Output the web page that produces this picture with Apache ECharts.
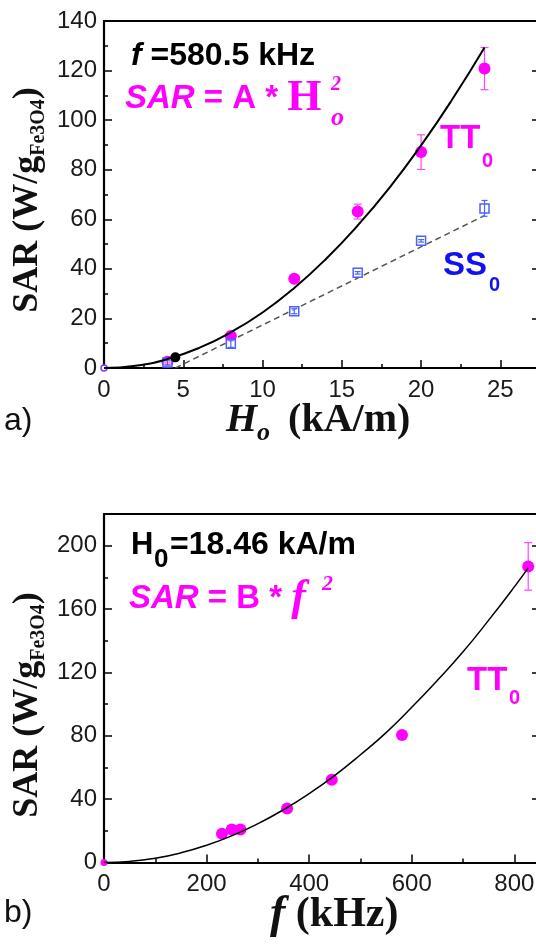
<!DOCTYPE html>
<html><head><meta charset="utf-8">
<script src="https://cdn.jsdelivr.net/npm/echarts@6/dist/echarts.min.js"></script>
<style>html,body{margin:0;padding:0;background:#fff}#c{width:536px;height:945px}</style>
</head><body><div id="c"></div><script>
// ---------- Panel a: SAR vs H0 (f = 580.5 kHz) ----------
const aXRange = [0, 27.5, 5];      // min, max, tick interval (kA/m)
const aYRange = [0, 140, 20];
const ttH = [4, 8, 12, 16, 20, 24];
const ttSAR = [2.5, 12.9, 36.0, 63.1, 87.1, 120.8];
const ttErr = [0, 0, 0, 3, 7, 8.5];
const blackH = [4.5];
const blackSAR = [4.3];
const ssH = [4, 8, 12, 16, 20, 24];
const ssSAR = [2.2, 9.8, 22.9, 38.4, 51.3, 64.4];
const ssErr = [1, 1.5, 1, 0.5, 0.5, 3.2];
const aOriginH = [0];
const aOriginSAR = [0];
const fitH = [0, 2, 4, 6, 8, 10, 12, 14, 16, 18, 20, 22, 24];
const fitSAR = [0, 0.9, 3.6, 8.1, 14.4, 22.4, 32.3, 44, 57.5, 72.7, 89.8, 108.7, 129.3];
const ssFitH = [4.5, 24];
const ssFitSAR = [0, 61.5];

// ---------- Panel b: SAR vs f (H0 = 18.46 kA/m) ----------
const bXRange = [0, 850, 200];
const bYRange = [0, 220, 40];
const fKHz = [230, 249, 266, 357, 444, 581, 827];
const fSAR = [18.1, 20.8, 20.8, 34.1, 52.2, 80.5, 186.9];
const fErr = [0, 0, 0, 0, 0, 0, 15];
const bOriginF = [0];
const bOriginSAR = [0];
const fitF = [0, 50, 100, 150, 200, 250, 300, 350, 400, 450, 500, 550, 600, 650, 700, 750, 800, 827];
const fitFSAR = [0, 0.7, 2.7, 6.1, 10.9, 17, 24.5, 33.3, 43.5, 55, 68, 82, 98, 115, 133, 153, 174, 186];

const SANS = 'Liberation Sans', SERIF = 'Liberation Serif';
const MAG = '#ff00ff', BLUE = '#1010f0', SQ = '#4a62ff';

const zip = (a, b) => a.map((v, i) => [v, b[i]]);
const zip3 = (a, b, c) => a.map((v, i) => [v, b[i], c[i]]);

function errBar(color, cap) {
  return function (params, api) {
    const x = api.value(0), y = api.value(1), e = api.value(2);
    if (!e) return null;
    const p1 = api.coord([x, y + e]), p2 = api.coord([x, y - e]);
    const s = { stroke: color, lineWidth: 1.2 };
    return { type: 'group', children: [
      { type: 'line', shape: { x1: p1[0], y1: p1[1], x2: p2[0], y2: p2[1] }, style: s },
      { type: 'line', shape: { x1: p1[0] - cap, y1: p1[1], x2: p1[0] + cap, y2: p1[1] }, style: s },
      { type: 'line', shape: { x1: p2[0] - cap, y1: p2[1], x2: p2[0] + cap, y2: p2[1] }, style: s }
    ]};
  };
}

const axLine = { show: true, onZero: false, lineStyle: { color: '#000', width: 2.2 } };
const tickStyle = { show: true, inside: true, length: 8, lineStyle: { color: '#000', width: 1.5 } };
const minorStyle = { show: true, splitNumber: 2, length: 4, lineStyle: { color: '#000', width: 1.5 } };
function xBottom(gi, r) {
  return { type: 'value', gridIndex: gi, position: 'bottom', min: r[0], max: r[1], interval: r[2],
    axisLine: axLine, splitLine: { show: false }, axisTick: tickStyle, minorTick: minorStyle,
    axisLabel: { margin: 10, fontFamily: SANS, fontSize: 24, color: '#1a1a1a', showMaxLabel: false } };
}
function xTop(gi, r) {
  return { type: 'value', gridIndex: gi, position: 'top', min: r[0], max: r[1], interval: r[2],
    axisLine: axLine, splitLine: { show: false }, axisTick: { show: false },
    axisLabel: { show: false } };
}
function yLeft(gi, r, showMax) {
  return { type: 'value', gridIndex: gi, position: 'left', min: r[0], max: r[1], interval: r[2],
    axisLine: axLine, splitLine: { show: false }, axisTick: tickStyle, minorTick: minorStyle,
    axisLabel: { margin: 7, fontFamily: SANS, fontSize: 24, color: '#1a1a1a', showMaxLabel: showMax } };
}
function yRight(gi, r) {
  const o = yLeft(gi, r, false);
  o.position = 'right';
  o.axisLabel = { show: false };
  return o;
}

function txt(x, y, text, rich) {
  return { type: 'text', x: x, y: y, z: 100,
    style: { text: text, rich: rich, verticalAlign: 'middle', align: 'left' } };
}
function tok(family, size, color, weight, style, extra) {
  return Object.assign({ fontFamily: family, fontSize: size, fill: color, color: color,
    fontWeight: weight || 'bold', fontStyle: style || 'normal' }, extra || {});
}
function rotName(x, y) {
  return { type: 'text', x: x, y: y, rotation: Math.PI / 2, z: 100,
    style: { text: '{b|SAR (W/g}{s|Fe3O4}{b|)}', align: 'center', verticalAlign: 'middle',
      rich: { b: tok(SERIF, 36, '#111', 'bold', 'normal', { lineHeight: 42 }),
              s: tok(SERIF, 20, '#111', 'bold', 'normal', { lineHeight: 20, verticalAlign: 'bottom' }) } } };
}

const graphic = [
  // panel a annotations
  txt(131, 56, '{i|f}{b| =580.5 kHz}', { i: tok(SANS, 32, '#000', 'bold', 'italic'), b: tok(SANS, 32, '#000') }),
  txt(125, 99, '{i|SAR}{b| = A * }{h|H}', { i: tok(SANS, 33, MAG, 'bold', 'italic'), b: tok(SANS, 33, MAG), h: tok(SERIF, 44, MAG) }),
  txt(331, 85, '{s|2}', { s: tok(SERIF, 20, MAG, 'bold', 'italic') }),
  txt(331, 118, '{s|o}', { s: tok(SERIF, 26, MAG, 'bold', 'italic') }),
  txt(440, 139, '{b|TT}', { b: tok(SANS, 33, MAG) }),
  txt(482, 161, '{b|0}', { b: tok(SANS, 20, MAG) }),
  txt(443, 266, '{b|SS}', { b: tok(SANS, 33, BLUE) }),
  txt(489, 285, '{b|0}', { b: tok(SANS, 20, BLUE) }),
  // panel a axis names
  rotName(28, 200),
  txt(226, 421, '{h|H}{s|o}{b| (kA/m)}', {
      h: tok(SERIF, 40, '#111', 'bold', 'italic', { lineHeight: 50 }),
      s: tok(SERIF, 26, '#111', 'bold', 'italic', { lineHeight: 26, verticalAlign: 'bottom', padding: [0, 8, 0, 0] }),
      b: tok(SERIF, 40, '#111', 'bold', 'normal', { lineHeight: 50 }) }),
  txt(4, 421, '{r|a)}', { r: tok(SANS, 32, '#111', 'normal') }),
  // panel b annotations
  txt(131, 545, '{b|H}', { b: tok(SANS, 31, '#000') }),
  txt(154, 560, '{b|0}', { b: tok(SANS, 26, '#000') }),
  txt(170, 545, '{b|=18.46 kA/m}', { b: tok(SANS, 32, '#000') }),
  txt(129, 599, '{i|SAR}{b| = B * }{f|f}', { i: tok(SANS, 33, MAG, 'bold', 'italic'), b: tok(SANS, 33, MAG), f: tok(SERIF, 44, MAG, 'bold', 'italic') }),
  txt(322, 584, '{s|2}', { s: tok(SERIF, 22, MAG, 'bold', 'italic') }),
  txt(467, 681, '{b|TT}', { b: tok(SANS, 33, MAG) }),
  txt(509, 698, '{b|0}', { b: tok(SANS, 20, MAG) }),
  rotName(28, 705),
  txt(270, 915, '{f|f}{b| (kHz)}', { f: tok(SERIF, 46, '#111', 'bold', 'italic'), b: tok(SERIF, 42, '#111') }),
  txt(4, 913, '{r|b)}', { r: tok(SANS, 32, '#111', 'normal') })
];

const option = {
  animation: false,
  backgroundColor: '#fff',
  grid: [
    { left: 104, top: 21, width: 436, height: 347, outerBoundsMode: 'none', containLabel: false },
    { left: 104, top: 514, width: 436, height: 348.5, outerBoundsMode: 'none', containLabel: false }
  ],
  xAxis: [xBottom(0, aXRange), xTop(0, aXRange), xBottom(1, bXRange), xTop(1, bXRange)],
  yAxis: [yLeft(0, aYRange, true), yRight(0, aYRange), yLeft(1, bYRange, false), yRight(1, bYRange)],
  graphic: graphic,
  series: [
    // panel a
    { type: 'line', xAxisIndex: 0, yAxisIndex: 0, data: zip(ssFitH, ssFitSAR), showSymbol: false, z: 3,
      lineStyle: { color: '#555', width: 1.5, type: [6, 4] } },
    { type: 'custom', xAxisIndex: 0, yAxisIndex: 0, data: zip3(ttH, ttSAR, ttErr), renderItem: errBar('#ff44ff', 4), encode: { x: 0, y: 1 }, z: 4 },
    { type: 'scatter', xAxisIndex: 0, yAxisIndex: 0, data: zip(ttH, ttSAR), symbol: 'circle', symbolSize: 12,
      itemStyle: { color: MAG, opacity: 1 }, z: 5 },
    { type: 'custom', xAxisIndex: 0, yAxisIndex: 0, data: zip3(ssH, ssSAR, ssErr), renderItem: errBar(SQ, 3), encode: { x: 0, y: 1 }, z: 7 },
    { type: 'scatter', xAxisIndex: 0, yAxisIndex: 0, data: zip(ssH, ssSAR), symbol: 'rect', symbolSize: 9,
      itemStyle: { color: 'rgba(255,255,255,0.6)', borderColor: SQ, borderWidth: 1.5, opacity: 1 }, z: 6 },
    { type: 'scatter', xAxisIndex: 0, yAxisIndex: 0, data: zip(blackH, blackSAR), symbol: 'circle', symbolSize: 10,
      itemStyle: { color: '#000', opacity: 1 }, z: 6 },
    { type: 'scatter', xAxisIndex: 0, yAxisIndex: 0, data: zip(aOriginH, aOriginSAR), symbol: 'circle', symbolSize: 6,
      itemStyle: { color: '#fff', borderColor: '#7a3cff', borderWidth: 1.5, opacity: 1 }, z: 6 },
    { type: 'line', xAxisIndex: 0, yAxisIndex: 0, data: zip(fitH, fitSAR), smooth: true, showSymbol: false, z: 8,
      lineStyle: { color: '#000', width: 2 } },
    // panel b
    { type: 'custom', xAxisIndex: 2, yAxisIndex: 2, data: zip3(fKHz, fSAR, fErr), renderItem: errBar('#ff44ff', 4), encode: { x: 0, y: 1 }, z: 4 },
    { type: 'scatter', xAxisIndex: 2, yAxisIndex: 2, data: zip(fKHz, fSAR), symbol: 'circle', symbolSize: 12,
      itemStyle: { color: MAG, opacity: 1 }, z: 5 },
    { type: 'scatter', xAxisIndex: 2, yAxisIndex: 2, data: zip(bOriginF, bOriginSAR), symbol: 'circle', symbolSize: 7,
      itemStyle: { color: MAG, opacity: 1 }, z: 1 },
    { type: 'line', xAxisIndex: 2, yAxisIndex: 2, data: zip(fitF, fitFSAR), smooth: true, showSymbol: false, z: 8,
      lineStyle: { color: '#000', width: 1.5 } }
  ]
};
echarts.init(document.getElementById('c'), null, { renderer: 'canvas' }).setOption(option);
</script></body></html>
